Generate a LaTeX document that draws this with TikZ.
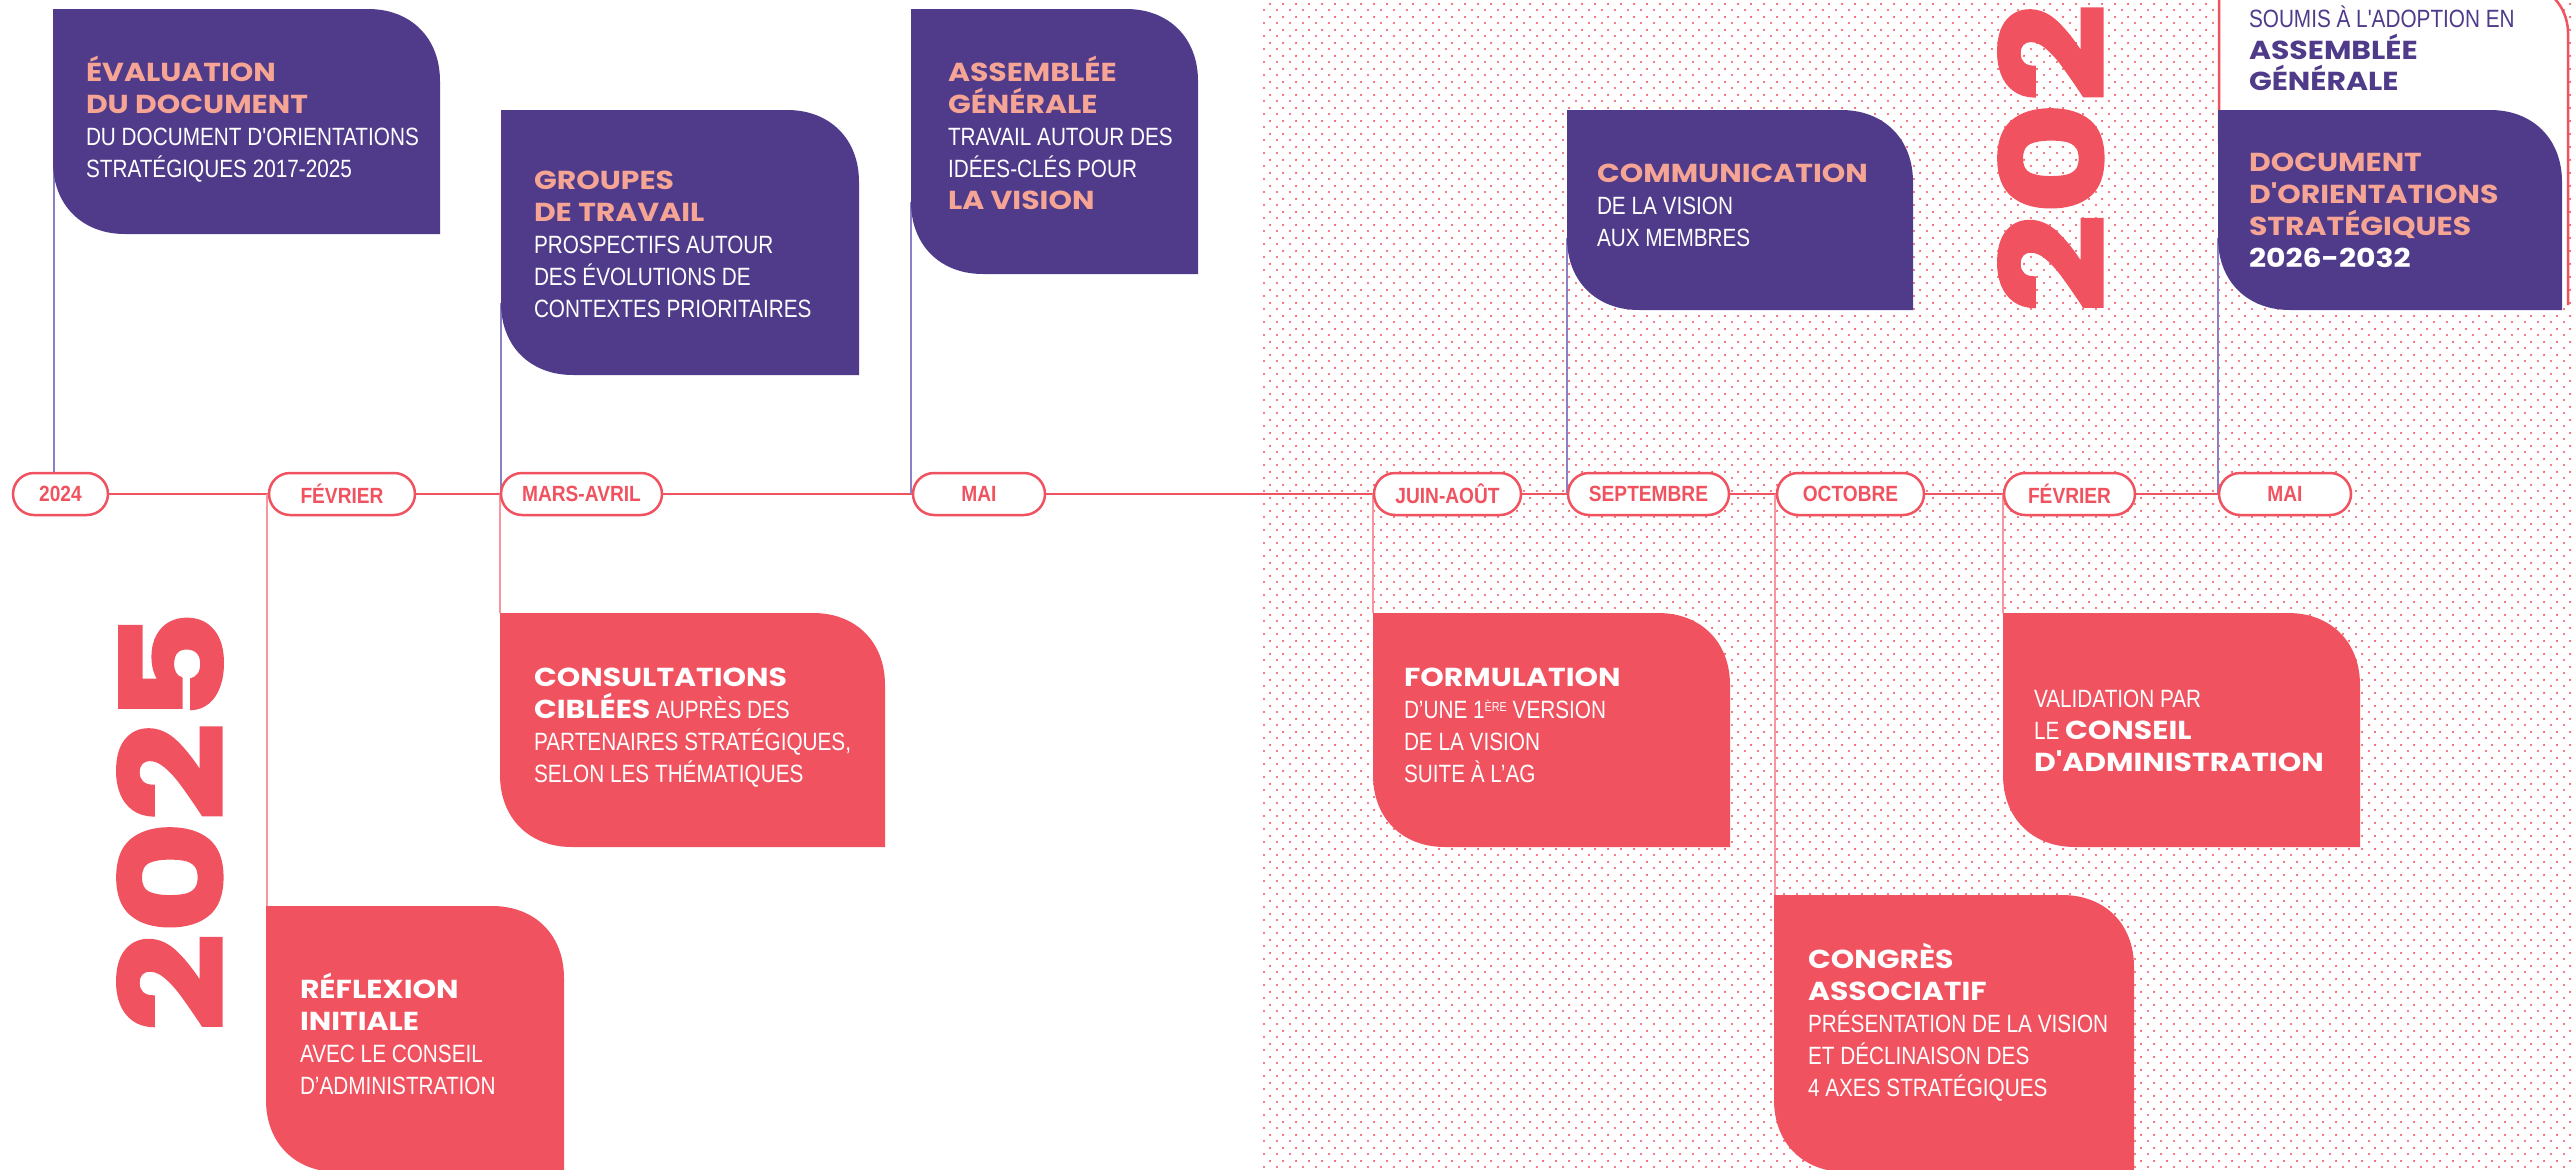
\documentclass[tikz,border=0pt]{standalone}
\usepackage{fontspec}
\usetikzlibrary{patterns,calc}
\setmainfont{Liberation Sans}
\newfontfamily\hfont{Poppins}[FakeStretch=1.15]
\newfontfamily\bfnt{Liberation Sans}[FakeStretch=0.83]
\newfontfamily\pfnt{Liberation Sans}[FakeStretch=0.87]
\newfontfamily\yfnt{Poppins}[FakeStretch=1.23,FakeBold=2.5]
\definecolor{dpurple}{RGB}{79,59,138}
\definecolor{dred}{RGB}{240,82,95}
\definecolor{salmon}{RGB}{246,165,149}
\definecolor{lpurple}{RGB}{140,128,196}
\definecolor{lred}{RGB}{246,150,158}
\pgfdeclarepatternformonly{reddots}{\pgfqpoint{0pt}{0pt}}{\pgfqpoint{13pt}{13pt}}{\pgfqpoint{13pt}{13pt}}{%
  \pgfpathcircle{\pgfqpoint{3.25pt}{3.25pt}}{1.25pt}%
  \pgfpathcircle{\pgfqpoint{9.75pt}{9.75pt}}{1.25pt}%
  \pgfusepath{fill}}
\pgfdeclarelayer{bg}
\pgfsetlayers{bg,main}
\newcommand\Hd[1]{{\hfont\bfseries\fontsize{26}{32}\selectfont #1}}
\newcommand\Bd[1]{{\bfnt\fontsize{25}{32}\selectfont #1}}
\newcommand\LS{\fontsize{25}{32}\selectfont\raggedright\leavevmode}
\newcommand\blob[2]{\fill[#2] (#1.north west) -- ([xshift=-72pt]#1.north east) .. controls ([xshift=-29pt]#1.north east) and ([yshift=-29pt]#1.north east) .. ([yshift=-72pt]#1.north east) -- (#1.south east) -- ([xshift=72pt]#1.south west) .. controls ([xshift=29pt]#1.south west) and ([yshift=29pt]#1.south west) .. ([yshift=72pt]#1.south west) -- cycle;}
\begin{document}
\begin{tikzpicture}[x=1pt,y=-1pt,
  area/.style={rectangle,anchor=north west,inner sep=0,outer sep=0,draw=none},
  pill/.style={rectangle,rounded corners=21pt,draw=dred,line width=2.5pt,fill=white,minimum height=42pt,inner sep=0,text=dred,font={\pfnt\bfseries\fontsize{22}{22}\selectfont}},
  tx/.style={anchor=base west,inner sep=0,outer sep=0,text=white},
  pcon/.style={draw=lpurple,line width=1.5pt},
  rcon/.style={draw=lred,line width=1.5pt},
  yr/.style={text=dred,font={\yfnt\bfseries\fontsize{140}{140}\selectfont},inner sep=0,rotate=90,anchor=west}]
\useasboundingbox (0,0) rectangle (2576,1170);
\begin{pgfonlayer}{bg}
\fill[white] (0,0) rectangle (2576,1170);
\fill[pattern=reddots,pattern color=dred] (1260,0) rectangle (2576,1170);
\end{pgfonlayer}
\clip (0,0) rectangle (2576,1170);

% box areas
\node[area,minimum width=387pt,minimum height=225pt] (b1) at (53,9) {};
\node[area,minimum width=358pt,minimum height=265pt] (b2) at (501,110) {};
\node[area,minimum width=287pt,minimum height=265pt] (b3) at (911,9) {};
\node[area,minimum width=346pt,minimum height=200pt] (b4) at (1567,110) {};
\node[area,minimum width=349pt,minimum height=322pt] (wb) at (2219,-17) {};
\node[area,minimum width=344pt,minimum height=200pt] (b5) at (2218,110) {};
\node[area,minimum width=298pt,minimum height=266pt] (c1) at (266,906) {};
\node[area,minimum width=385pt,minimum height=234pt] (c2) at (500,613) {};
\node[area,minimum width=357pt,minimum height=234pt] (c3) at (1373,613) {};
\node[area,minimum width=360pt,minimum height=277pt] (c4) at (1774,895) {};
\node[area,minimum width=357pt,minimum height=234pt] (c5) at (2003,613) {};

% pills
\node[pill,minimum width=95pt] (p1) at (60.5,494) {2024};
\node[pill,minimum width=146pt] (p2) at (342,494) {FÉVRIER};
\node[pill,minimum width=161pt] (p3) at (581.5,494) {MARS-AVRIL};
\node[pill,minimum width=132pt] (p4) at (979,494) {MAI};
\node[pill,minimum width=147pt] (p5) at (1447.5,494) {JUIN-AOÛT};
\node[pill,minimum width=161pt] (p6) at (1648.5,494) {SEPTEMBRE};
\node[pill,minimum width=147pt] (p7) at (1850.5,494) {OCTOBRE};
\node[pill,minimum width=131pt] (p8) at (2069.5,494) {FÉVRIER};
\node[pill,minimum width=132pt] (p9) at (2285,494) {MAI};

\begin{pgfonlayer}{bg}
\draw[dred,line width=2pt] (p1.center) -- (p9.center);
\draw[pcon] ([xshift=1pt,yshift=72pt]b1.south west) -- ([xshift=1pt]b1.south west |- p1.center);
\draw[pcon] ([yshift=72pt]b2.south west) -- (b2.south west |- p3.center);
\draw[pcon] ([yshift=72pt]b3.south west) -- (b3.south west |- p4.center);
\draw[pcon] ([yshift=72pt]b4.south west) -- (b4.south west |- p6.center);
\draw[pcon] ([yshift=72pt]b5.south west) -- (b5.south west |- p9.center);
\draw[rcon] ([xshift=1pt]c1.north west) -- ([xshift=1pt]c1.north west |- p2.center);
\draw[rcon] (c2.north west) -- (c2.north west |- p3.center);
\draw[rcon] (c3.north west) -- (c3.north west |- p5.center);
\draw[rcon] ([xshift=1pt]c4.north west) -- ([xshift=1pt]c4.north west |- p7.center);
\draw[rcon] (c5.north west) -- (c5.north west |- p8.center);
\end{pgfonlayer}

% shapes
\blob{b1}{dpurple}
\blob{b2}{dpurple}
\blob{b3}{dpurple}
\blob{b4}{dpurple}
\fill[white] ([yshift=-160pt]wb.north west) -- (wb.north west) -- ([xshift=-50pt]wb.north east) .. controls ([xshift=-22pt]wb.north east) and ([yshift=-22pt]wb.north east) .. ([yshift=-50pt]wb.north east) -- (wb.south east) -- cycle;
\draw[draw=dred,line width=2.5pt] ([yshift=-160pt]wb.north west) -- (wb.north west) -- ([xshift=-50pt]wb.north east) .. controls ([xshift=-22pt]wb.north east) and ([yshift=-22pt]wb.north east) .. ([yshift=-50pt]wb.north east) -- (wb.south east);
\blob{b5}{dpurple}
\blob{c1}{dred}
\blob{c2}{dred}
\blob{c3}{dred}
\blob{c4}{dred}
\blob{c5}{dred}

% texts
\node[tx] (t1) at (86,81) {\parbox[t]{500pt}{\LS\color{salmon}\Hd{ÉVALUATION}\\\Hd{DU DOCUMENT}\\\color{white}\Bd{DU DOCUMENT D'ORIENTATIONS}\\\Bd{STRATÉGIQUES 2017-2025}}};
\node[tx] (t2) at (534,189) {\parbox[t]{500pt}{\LS\color{salmon}\Hd{GROUPES}\\\Hd{DE TRAVAIL}\\\color{white}\Bd{PROSPECTIFS AUTOUR}\\\Bd{DES ÉVOLUTIONS DE}\\\Bd{CONTEXTES PRIORITAIRES}}};
\node[tx] (t3) at (948,81) {\parbox[t]{500pt}{\LS\color{salmon}\Hd{ASSEMBLÉE}\\\Hd{GÉNÉRALE}\\\color{white}\Bd{TRAVAIL AUTOUR DES}\\\Bd{IDÉES-CLÉS POUR}\\\color{salmon}\Hd{LA VISION}}};
\node[tx] (t4) at (1597,182) {\parbox[t]{500pt}{\LS\color{salmon}\Hd{COMMUNICATION}\\\color{white}\Bd{DE LA VISION}\\\Bd{AUX MEMBRES}}};
\node[tx] (t5) at (2249,27) {\parbox[t]{500pt}{\LS\color{dpurple}\Bd{SOUMIS À L'ADOPTION EN}\\\Hd{ASSEMBLÉE}\\\Hd{GÉNÉRALE}}};
\node[tx] (t6) at (2249,171) {\parbox[t]{500pt}{\LS\color{salmon}\Hd{DOCUMENT}\\\Hd{D'ORIENTATIONS}\\\Hd{STRATÉGIQUES}\\\color{white}\Hd{2026-2032}}};
\node[tx] (t7) at (300,998) {\parbox[t]{500pt}{\LS\Hd{RÉFLEXION}\\\Hd{INITIALE}\\\Bd{AVEC LE CONSEIL}\\\Bd{D’ADMINISTRATION}}};
\node[tx] (t8) at (534,686) {\parbox[t]{500pt}{\LS\Hd{CONSULTATIONS}\\\Hd{CIBLÉES}\Bd{ AUPRÈS DES}\\\Bd{PARTENAIRES STRATÉGIQUES,}\\\Bd{SELON LES THÉMATIQUES}}};
\node[tx] (t9) at (1404,686) {\parbox[t]{500pt}{\LS\Hd{FORMULATION}\\\Bd{D’UNE 1\raisebox{7pt}{\fontsize{13}{13}\selectfont ÈRE} VERSION}\\\Bd{DE LA VISION}\\\Bd{SUITE À L’AG}}};
\node[tx] (t10) at (1808,968) {\parbox[t]{500pt}{\LS\Hd{CONGRÈS}\\\Hd{ASSOCIATIF}\\\Bd{PRÉSENTATION DE LA VISION}\\\Bd{ET DÉCLINAISON DES}\\\Bd{4 AXES STRATÉGIQUES}}};
\node[tx] (t11) at (2034,707) {\parbox[t]{500pt}{\LS\Bd{VALIDATION PAR}\\\Bd{LE }\Hd{CONSEIL}\\\Hd{D'ADMINISTRATION}}};

% years
\node[yr] (y1) at (170,1032) {2025};
\node[yr] (y2) at (2051,313) {202};
\end{tikzpicture}
\end{document}
